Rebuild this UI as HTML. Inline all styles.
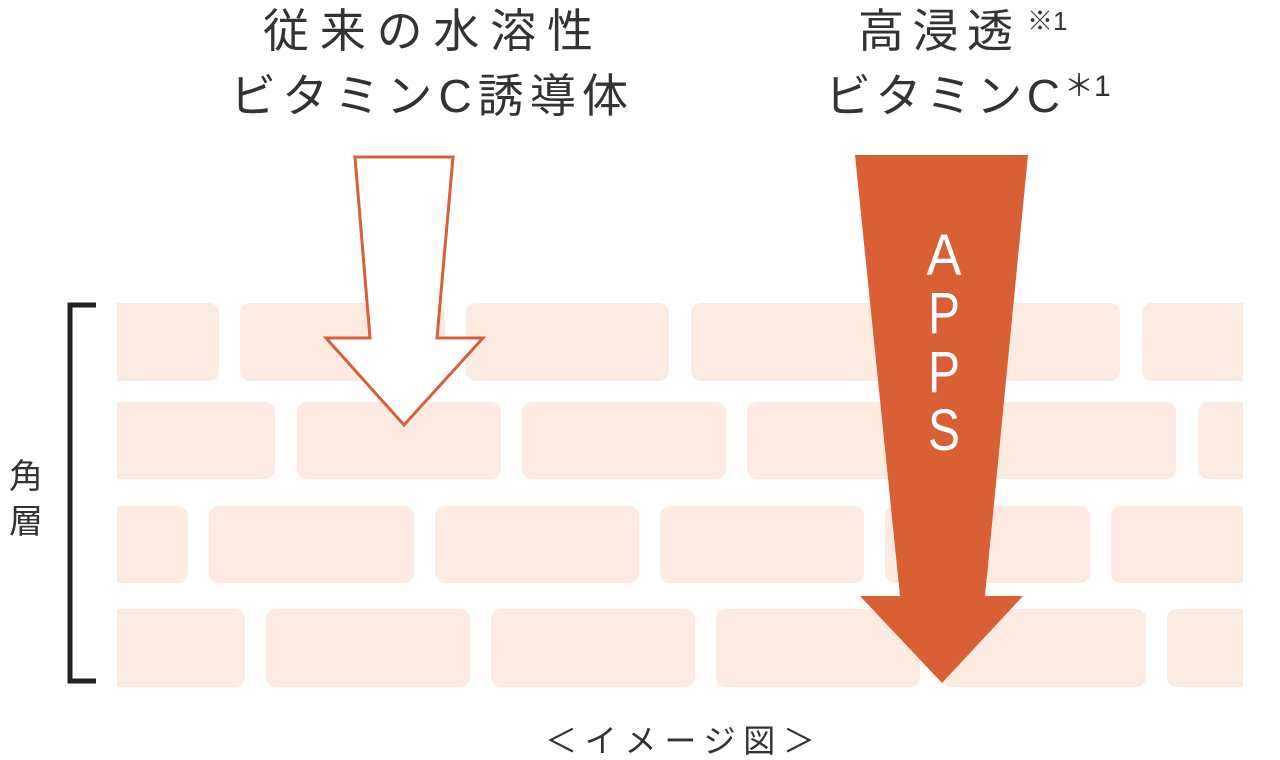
<!DOCTYPE html>
<html><head><meta charset="utf-8"><style>
html,body{margin:0;padding:0;background:#fff;width:1280px;height:760px;overflow:hidden}
svg{display:block}
text{font-family:"Liberation Sans","Noto Sans CJK JP",sans-serif}
</style></head><body>
<svg width="1280" height="760" viewBox="0 0 1280 760">
<defs><clipPath id="c"><rect x="117" y="290" width="1126" height="420"/></clipPath></defs>
<g fill="#fdebe2" clip-path="url(#c)">
<rect x="100" y="303" width="119" height="78" rx="10"/>
<rect x="240" y="303" width="205" height="78" rx="10"/>
<rect x="466" y="303" width="203" height="78" rx="10"/>
<rect x="691" y="303" width="204" height="78" rx="10"/>
<rect x="916" y="303" width="204" height="78" rx="10"/>
<rect x="1142" y="303" width="130" height="78" rx="10"/>
<rect x="100" y="402" width="175" height="77" rx="10"/>
<rect x="297" y="402" width="204" height="77" rx="10"/>
<rect x="522" y="402" width="204" height="77" rx="10"/>
<rect x="747" y="402" width="204" height="77" rx="10"/>
<rect x="972" y="402" width="204" height="77" rx="10"/>
<rect x="1198" y="402" width="80" height="77" rx="10"/>
<rect x="100" y="506" width="88" height="77" rx="10"/>
<rect x="209" y="506" width="205" height="77" rx="10"/>
<rect x="435" y="506" width="204" height="77" rx="10"/>
<rect x="660" y="506" width="204" height="77" rx="10"/>
<rect x="885" y="506" width="205" height="77" rx="10"/>
<rect x="1111" y="506" width="160" height="77" rx="10"/>
<rect x="100" y="609" width="145" height="78" rx="10"/>
<rect x="266" y="609" width="204" height="78" rx="10"/>
<rect x="491" y="609" width="204" height="78" rx="10"/>
<rect x="716" y="609" width="204" height="78" rx="10"/>
<rect x="941" y="609" width="205" height="78" rx="10"/>
<rect x="1167" y="609" width="110" height="78" rx="10"/>
</g>
<path d="M96 305 H70 V681 H96" fill="none" stroke="#222" stroke-width="5"/>
<text x="26" y="488" font-size="34" fill="#333" text-anchor="middle">角</text>
<text x="26" y="533" font-size="34" fill="#333" text-anchor="middle">層</text>
<polygon points="355,157 453,157 437,338 483,338 404,425 326,338 370,338" fill="#fff" stroke="#d95f34" stroke-width="3" stroke-linejoin="miter"/>
<polygon points="855,155 1028,155 985,596 1023,596 942,683 860,596 900,596" fill="#d95f34"/>
<g fill="#fff" font-size="58" text-anchor="middle">
<text x="944" y="275" textLength="35" lengthAdjust="spacingAndGlyphs">A</text>
<text x="944" y="333" textLength="32" lengthAdjust="spacingAndGlyphs">P</text>
<text x="944" y="392" textLength="32" lengthAdjust="spacingAndGlyphs">P</text>
<text x="944" y="450" textLength="32" lengthAdjust="spacingAndGlyphs">S</text>
</g>
<g fill="#333" font-size="46">
<text x="263" y="47" textLength="330" lengthAdjust="spacing">従来の水溶性</text>
<text x="230" y="112" textLength="398" lengthAdjust="spacing">ビタミンC誘導体</text>
<text x="858" y="47" textLength="155" lengthAdjust="spacing">高浸透</text>
<text x="1027" y="30" font-size="26">※1</text>
<text x="825" y="112" textLength="235" lengthAdjust="spacing">ビタミンC</text>
<text x="1064" y="96" font-size="30">＊1</text>
</g>
<text x="545" y="752" font-size="32" fill="#333" textLength="270" lengthAdjust="spacing">＜イメージ図＞</text>
</svg>
</body></html>
